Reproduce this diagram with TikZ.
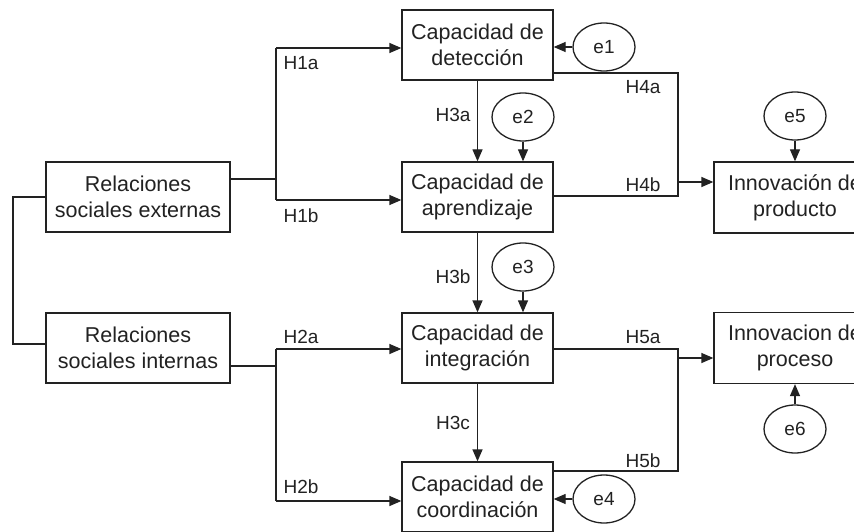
\documentclass[tikz,border=0pt]{standalone}
\usepackage{fontspec}
\setmainfont{Liberation Sans}
\usetikzlibrary{arrows.meta,shapes.geometric}
\definecolor{ink}{HTML}{222222}
\tikzset{
  box/.style={draw=ink,line width=1.3pt,rectangle,inner sep=0pt,align=center,text=ink,
    font=\fontsize{21.5}{26}\selectfont},
  bigbox/.style={box,minimum width=184pt,minimum height=70pt},
  capbox/.style={box,minimum width=151pt,minimum height=70pt},
  outbox/.style={box,minimum width=162pt,minimum height=71pt},
  err/.style={draw=ink,line width=1.3pt,ellipse,inner sep=0pt,minimum width=62pt,minimum height=48pt,
    text=ink,font=\fontsize{19}{22}\selectfont},
  lbl/.style={text=ink,inner sep=0pt,font=\fontsize{19}{22}\selectfont},
  ln/.style={draw=ink,line width=1.3pt},
  arr/.style={ln,-{Triangle[length=12pt,width=10pt]}},
}
\begin{document}
\begin{tikzpicture}[x=1pt,y=-1pt]
\clip (0,0) rectangle (854,532);
\fill[white] (0,0) rectangle (854,532);
% boxes
\node[bigbox] (rse) at (138,197) {Relaciones\\sociales externas};
\node[bigbox] (rsi) at (138,348) {Relaciones\\sociales internas};
\node[capbox] (det) at (477.5,45) {Capacidad de\\detección};
\node[capbox] (apr) at (477.5,197) {Capacidad de\\aprendizaje};
\node[capbox] (int) at (477.5,348) {Capacidad de\\integración};
\node[capbox] (coo) at (477.5,497) {Capacidad de\\coordinación};
\node[outbox] (ip) at (795,197.5) {Innovación de\\producto};
\node[outbox] (pp) at (795,348) {Innovacion de\\proceso};
% error terms
\node[err] (e1) at (604,47) {e1};
\node[err] (e2) at (523,117) {e2};
\node[err] (e3) at (523,267) {e3};
\node[err] (e4) at (604,499) {e4};
\node[err] (e5) at (795,116) {e5};
\node[err] (e6) at (795,429) {e6};
% coordinates
\coordinate (c1) at (13,197);
\coordinate (c2) at (13,344);
\coordinate (j1) at (276,179);
\coordinate (b1) at (276,48);
\coordinate (b2) at (276,200);
\coordinate (j2) at (276,366);
\coordinate (b3) at (276,349);
\coordinate (b4) at (276,501);
\coordinate (r1) at (678,73);
\coordinate (r2) at (678,196);
\coordinate (r3) at (678,182);
\coordinate (r4) at (678,349);
\coordinate (r5) at (678,471);
\coordinate (r6) at (678,358);
% left connector
\draw[ln] (c1 -| rse.west) -- (c1) -- (c2) -- (c2 -| rsi.west);
% H1
\draw[ln] (j1 -| rse.east) -- (j1);
\draw[ln] (b1) -- (b2);
\draw[arr] (b1) -- (b1 -| det.west);
\draw[arr] (b2) -- (b2 -| apr.west);
% H2
\draw[ln] (j2 -| rsi.east) -- (j2);
\draw[ln] (b3) -- (b4);
\draw[arr] (b3) -- (b3 -| int.west);
\draw[arr] (b4) -- (b4 -| coo.west);
% H3
\draw[arr] (det.south) -- (apr.north);
\draw[arr] (apr.south) -- (int.north);
\draw[arr] (int.south) -- (coo.north);
% H4
\draw[ln] (r1 -| det.east) -- (r1) -- (r2) -- (r2 -| apr.east);
\draw[arr] (r3) -- (r3 -| ip.west);
% H5
\draw[ln] (r4 -| int.east) -- (r4) -- (r5) -- (r5 -| coo.east);
\draw[arr] (r6) -- (r6 -| pp.west);
% error arrows
\draw[arr] (e1.west) -- (e1.west -| det.east);
\draw[arr] (e2.south) -- (e2.south |- apr.north);
\draw[arr] (e3.south) -- (e3.south |- int.north);
\draw[arr] (e4.west) -- (e4.west -| coo.east);
\draw[arr] (e5.south) -- (ip.north);
\draw[arr] (e6.north) -- (pp.south);
% labels
\node[lbl] (l1a) at (301,63) {H1a};
\node[lbl] (l1b) at (301,216) {H1b};
\node[lbl] (l2a) at (301,337) {H2a};
\node[lbl] (l2b) at (301,487) {H2b};
\node[lbl] (l3a) at (453,115) {H3a};
\node[lbl] (l3b) at (453,277) {H3b};
\node[lbl] (l3c) at (453,423) {H3c};
\node[lbl] (l4a) at (643,87) {H4a};
\node[lbl] (l4b) at (643,185) {H4b};
\node[lbl] (l5a) at (643,337) {H5a};
\node[lbl] (l5b) at (643,461) {H5b};
\end{tikzpicture}
\end{document}
